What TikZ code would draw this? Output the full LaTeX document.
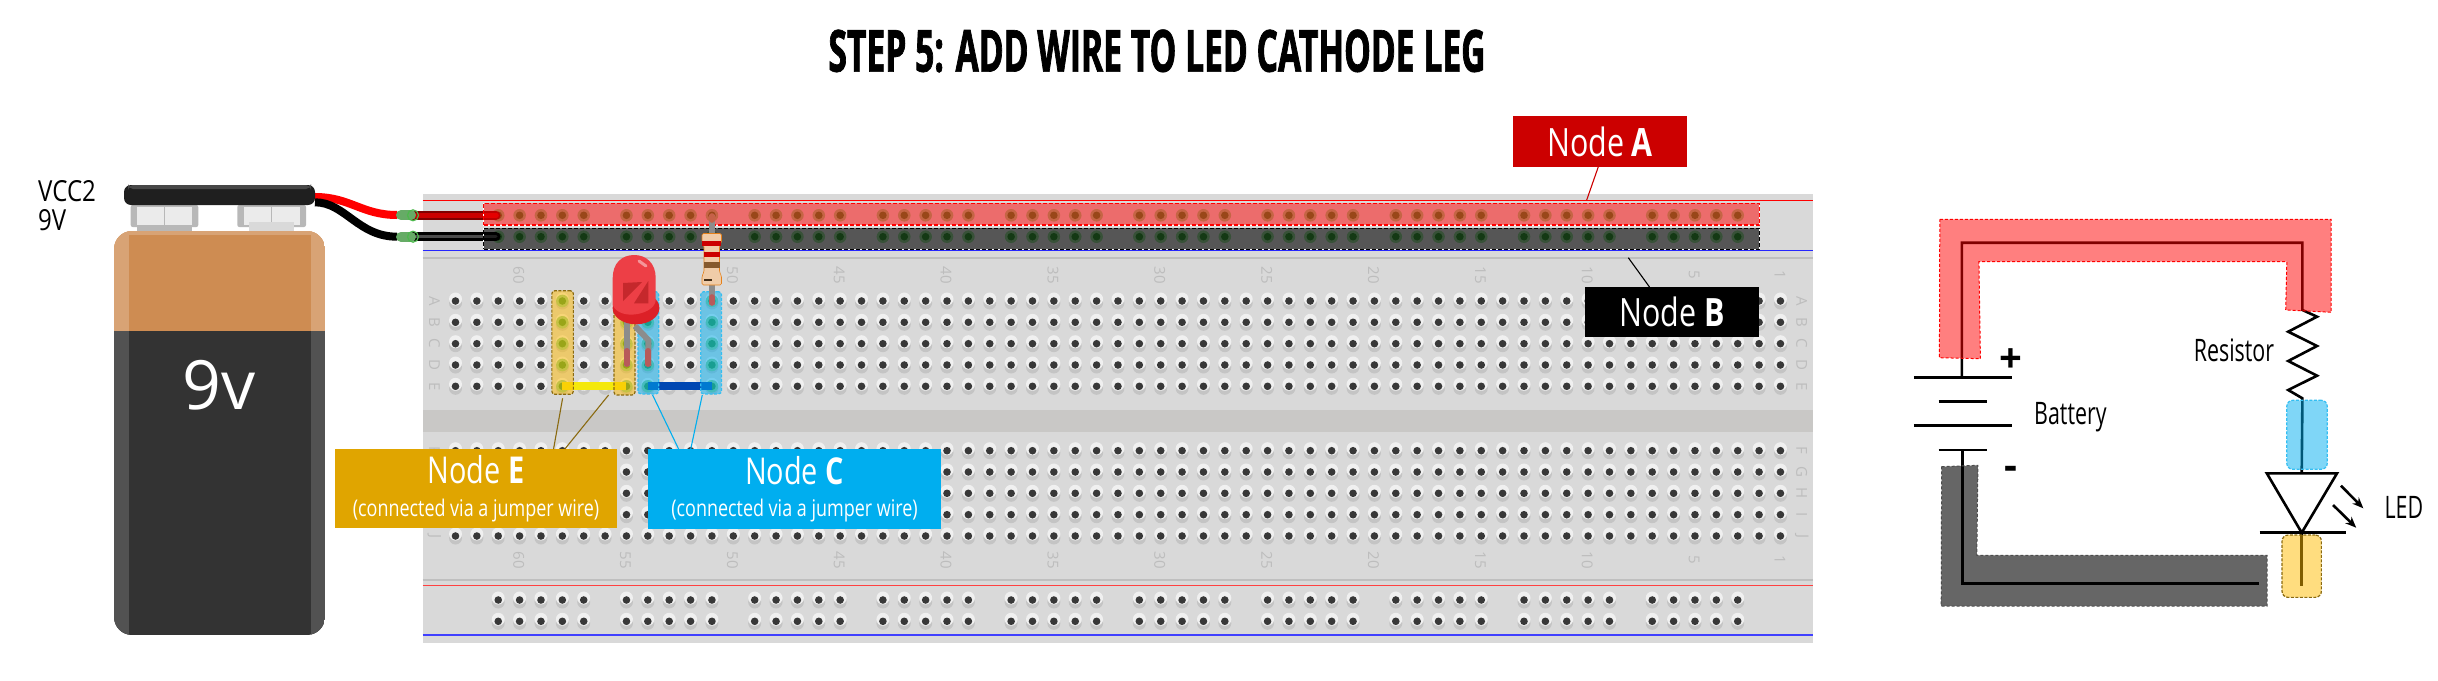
\documentclass[tikz,border=0pt]{standalone}
\usepackage{fontspec}
\usepackage{tikz}
\usetikzlibrary{arrows.meta}
\setmainfont{Open Sans}
\newfontfamily\narrowfont[FakeStretch=0.78]{Open Sans}
\newfontfamily\schemfont[FakeStretch=0.69]{Open Sans}
\newfontfamily\vccfont[FakeStretch=0.83]{Open Sans}
\newfontfamily\titlefont[FakeStretch=0.58,FakeBold=1.2]{Open Sans}
\definecolor{boardgray}{HTML}{D9D9D9}
\definecolor{channelgray}{HTML}{C9C8C6}
\definecolor{numgray}{HTML}{BDBDBD}
\definecolor{nodeyellow}{HTML}{FFBB00}
\definecolor{nodeblue}{HTML}{00AEEF}
\definecolor{edgeyellow}{HTML}{8A6A10}
\definecolor{copper}{HTML}{CE8C52}
\definecolor{legred}{HTML}{B85A5A}
\definecolor{ledbody}{HTML}{ED3F46}
\definecolor{ledrim}{HTML}{DC2027}
\definecolor{ledinner}{HTML}{C5282C}
\newcommand{\holeplain}[2]{
	\fill[black!23] ({#1},{#2+2}) circle [radius=6.5];
	\fill[black!6] ({#1},{#2-2}) circle [radius=6.5];
	\fill[black!78] ({#1},{#2}) circle [radius=3.8];
}
\newcommand{\holelive}[2]{
	\fill[green!55!black!45!white] ({#1},{#2}) circle [radius=6.3];
	\fill[green!45!black!80] ({#1},{#2}) circle [radius=3.8];
}
\tikzset{
	railA/.style={rectangle,inner sep=0,outer sep=0,fill=red,fill opacity=.5,draw=red,line width=1.2,dash pattern=on 4pt off 2pt,preaction={draw=white,solid,line width=1.2}},
	railB/.style={rectangle,inner sep=0,outer sep=0,fill=black,fill opacity=.6,draw=black,line width=1.2,dash pattern=on 4pt off 2pt,preaction={draw=white,solid,line width=1.2}},
	stripE/.style={rectangle,rounded corners=3,inner sep=0,outer sep=0,fill=nodeyellow,fill opacity=.5,draw=edgeyellow,line width=1.2,dash pattern=on 3pt off 1.5pt},
	stripC/.style={rectangle,rounded corners=3,inner sep=0,outer sep=0,fill=nodeblue,fill opacity=.5,draw=nodeblue!80!white,line width=1.2,dash pattern=on 3pt off 1.5pt},
	labelbox/.style={rectangle,inner sep=0,outer sep=0,text=white,align=center,font=\narrowfont},
	plaintext/.style={inner sep=0,outer sep=0,text=black,font=\schemfont\fontsize{31}{34}\selectfont},
	boardnum/.style={inner sep=0,text=numgray,rotate=-90,font=\fontsize{15}{15}\selectfont},
	schem/.style={line width=2.6,black,line join=miter},
	beam/.style={schem,-{Stealth[length=11pt,width=9pt]}},
}
\begin{document}
\begin{tikzpicture}[x=1pt,y=-1pt]
	\useasboundingbox (0,0) rectangle (2438,680);
	\node[inner sep=0,font=\titlefont\bfseries\fontsize{58}{60}\selectfont] (title) at (1157,51) {STEP 5: ADD WIRE TO LED CATHODE LEG};
	% breadboard
	\fill[boardgray] (422.6,194) rectangle (1813,642.7);
	\fill[channelgray] (422.6,410) rectangle (1813,431.7);
	\draw[red,line width=1.4] (422.6,200.3) -- (1813,200.3);
	\draw[blue!85!white,line width=1.4] (422.6,250.3) -- (1813,250.3);
	\draw[black!25,line width=1.6] (422.6,257.7) -- (1813,257.7);
	\draw[black!25,line width=1.6] (422.6,580) -- (1813,580);
	\draw[red!75!white,line width=1.6] (422.6,585.3) -- (1813,585.3);
	\draw[blue!75!white,line width=1.6] (422.6,635) -- (1813,635);
	\foreach \i in {0,...,62}
		\foreach \r in {301,322.3,343.7,365,386.3,450.7,472,493.3,514.7,536}
			{\holeplain{455.5+21.37*\i}{\r}}
	\foreach \g in {2,8,...,56}
		\foreach \k in {0,...,4} {
			\holelive{455.5+21.37*(\g+\k)}{215.3}
			\holelive{455.5+21.37*(\g+\k)}{236.7}
			\holeplain{455.5+21.37*(\g+\k)}{600}
			\holeplain{455.5+21.37*(\g+\k)}{621.3}
		}
	\foreach \i in {5,8,9,12}
		\foreach \r in {301,322.3,343.7,365,386.3}
			{\holelive{455.5+21.37*\i}{\r}}
	\foreach \n in {5,10,...,60} {
		\node[boardnum] (top\n) at (1781-21.37*\n+21.37-1.5,275) {\n};
		\node[boardnum] (bot\n) at (1781-21.37*\n+21.37-1.5,560) {\n};
	}
	\node[boardnum] (top1) at (1780,275) {1};
	\node[boardnum] (bot1) at (1780,560) {1};
	\foreach \t/\r in {A/301,B/322.3,C/343.7,D/365,E/386.3,F/450.7,G/472,H/493.3,I/514.7,J/536} {
		\node[boardnum] (left\t) at (434.4,\r) {\t};
		\node[boardnum] (right\t) at (1801.7,\r) {\t};
	}
	% wires into the rails
	\draw[line width=8,red] (315,197) .. controls (350,197) and (362,215) .. (397,215);
	\draw[line width=8,black] (315,202.3) .. controls (345,202.3) and (358,236.7) .. (397,236.7);
	\draw[line width=9,red!50!black,line cap=round] (413,215.3) -- (496,215.3);
	\draw[line width=5.5,red!80!black,line cap=round] (413,215.3) -- (496,215.3);
	\draw[line width=9,black,line cap=round] (413,236.7) -- (496,236.7);
	\draw[line width=3,black!70,line cap=round] (413,236.7) -- (496,236.7);
	\foreach \r in {215.3,236.7} {
		\draw[line width=10,green!45!black!60!white,line cap=round] (401,\r) -- (411,\r);
		\draw[green!60!black!70!white,line width=1.2] (413,\r) circle [radius=5.5];
	}
	\draw[line width=8,yellow!95!black] (562.3,386.3) -- (626.2,386.3);
	\draw[line width=8,blue!60!cyan!70!black] (647.6,386.3) -- (711.9,386.3);
	% highlighted nets
	\node[railA,minimum width=1275.6,minimum height=21.7] (railA) at (1121.5,214.2) {};
	\node[railB,minimum width=1275.6,minimum height=21] (railB) at (1121.5,238.8) {};
	\node[stripE,minimum width=21.5,minimum height=103.6] (stripEa) at (562.6,342.5) {};
	\node[stripE,minimum width=21.1,minimum height=103.6] (stripEb) at (624.5,343.2) {};
	\node[stripC,minimum width=20.7,minimum height=102.3] (stripCa) at (648.3,342.8) {};
	\node[stripC,minimum width=20.7,minimum height=102.3] (stripCb) at (711.1,342.8) {};
	% resistor
	\draw[line width=5.6,black!45] (711.9,215) -- (711.9,305);
	\draw[line width=5.6,legred,line cap=round] (711.9,297) -- (711.9,303);
	\draw[line width=5.6,legred!80!orange,line cap=round] (711.9,216) -- (711.9,220);
	\draw[fill=orange!40!brown!40!white,draw=orange!60!brown,rounded corners=1.5,line width=.6] (702,233.5) -- (721.5,233.5) -- (721.5,242) -- (719.5,246) -- (719.5,272) -- (721.5,276) -- (721.5,285) -- (702,285) -- (702,276) -- (704,272) -- (704,246) -- (702,242) -- cycle;
	\fill[red!80!black] (702.3,241) rectangle (721.2,245.7);
	\fill[red!80!black] (703.8,251.7) rectangle (719.7,256.7);
	\fill[brown!70!black] (703.8,262.3) rectangle (719.7,267.7);
	\fill[black!65!brown] (703.8,279.3) rectangle (712,281.3);
	% led
	\draw[line width=6,black!45] (626.7,320) -- (626.7,366);
	\draw[line width=6,black!45,line join=round] (635,326) -- (648.3,340) -- (648.3,366);
	\draw[line width=6,legred,line cap=round] (626.7,351) -- (626.7,364);
	\draw[line width=6,legred,line cap=round] (648.3,351) -- (648.3,364);
	\fill[ledrim] (636,308) ellipse [x radius=23.4,y radius=16.3];
	\fill[ledbody] (612.7,305) -- (612.7,278) .. controls (612.7,263) and (622,255) .. (634.2,255) .. controls (646,255) and (655.7,263) .. (655.7,278) -- (655.7,300) .. controls (655.7,314) and (620,322) .. (612.7,305) -- cycle;
	\fill[ledinner] (623,283) -- (642,282) -- (623,301) -- cycle;
	\fill[ledinner] (648.3,281) -- (648.3,303.3) -- (634,303.3) -- cycle;
	\draw[white,opacity=.45,line width=3,line cap=round] (639,261) -- (646,266);
	% battery
	\begin{scope}
		\clip[rounded corners=18] (114,231) rectangle (325,635);
		\fill[black!80] (114,331) rectangle (325,635);
		\fill[black!68] (114,331) rectangle (128.6,635);
		\fill[black!68] (311,331) rectangle (325,635);
		\fill[copper] (114,231) rectangle (325,331);
		\fill[copper!80!white] (114,231) rectangle (128.6,331);
		\fill[copper!80!white] (311,231) rectangle (325,331);
		\fill[copper!80!white] (114,231) rectangle (325,235);
	\end{scope}
	\foreach \x/\w in {130.7/67.6,237.3/68.7} {
		\fill[black!28,rounded corners=2] (\x,205) rectangle (\x+\w,227);
		\fill[black!8] (\x+6.5,207) rectangle (\x+\w/2-.7,225);
		\fill[black!8] (\x+\w/2+.7,207) rectangle (\x+\w-6.5,225);
	}
	\fill[black!28] (137,225) rectangle (192,231);
	\fill[black!15] (249,221.7) rectangle (294,231);
	\fill[black!88,rounded corners=7] (124,205) -- (124,185) -- (315,185) -- (315,205) -- cycle;
	\fill[black!72,rounded corners=5] (128,185) rectangle (311,189);
	\node[inner sep=0,text=white,font=\fontsize{68}{70}\selectfont] (bat9v) at (219,385) {9v};
	\node[inner sep=0,anchor=north west,align=left,font=\vccfont\fontsize{29}{34}\selectfont] (vcc) at (38,180) {VCC2\\[-5pt]9V};
	% labels and leaders
	\node[labelbox,fill=red!80!black,minimum width=174,minimum height=51,font=\narrowfont\fontsize{39}{40}\selectfont] (labelA) at (1600,141.5) {Node \textbf{A}};
	\node[labelbox,fill=black,minimum width=174,minimum height=50,font=\narrowfont\fontsize{39}{40}\selectfont] (labelB) at (1672,312) {Node \textbf{B}};
	\node[labelbox,fill=nodeyellow!88!black,minimum width=282,minimum height=79] (labelE) at (476,488.7) {\fontsize{37}{40}\selectfont Node \textbf{E}\\[14pt]\fontsize{23}{24}\selectfont (connected via a jumper wire)};
	\node[labelbox,fill=nodeblue,minimum width=293,minimum height=79.7] (labelC) at (794.5,489.2) {\fontsize{37}{40}\selectfont Node \textbf{C}\\[14pt]\fontsize{23}{24}\selectfont (connected via a jumper wire)};
	\coordinate (tipA) at (1586.7,200);
	\coordinate (tipB) at (1628.3,257.7);
	\coordinate (tipEa) at (562.6,398.3);
	\coordinate (tipEb) at (608.6,395);
	\coordinate (tipCa) at (652.6,395);
	\coordinate (tipCb) at (702.3,395);
	\path[red!80!black,line width=1.1] (labelA.266) edge (tipA);
	\path[black,line width=1.1] (labelB.132) edge (tipB);
	\path[edgeyellow,line width=1.1] (labelE.27) edge (tipEa)
				(labelE.24) edge (tipEb);
	\path[nodeblue,line width=1.1] (labelC.161) edge (tipCa)
				(labelC.159.5) edge (tipCb);
	% schematic
	\coordinate (batTop) at (1961.9,377.3);
	\coordinate (batBot) at (1962.6,450);
	\coordinate (ledIn) at (2301.7,473.3);
	\coordinate (ledOut) at (2301.7,532.7);
	\draw[schem] (batTop) -- (1961.9,242.7) -- (2302.4,242.7) -- (2302.4,310) -- (2317,316.7) -- (2288.2,331.7) -- (2317,346) -- (2288.2,361) -- (2317,375.7) -- (2288.2,390) -- (2302.4,398.3) -- (ledIn);
	\draw[schem] (batBot) -- (1962.6,583.3) -- (2259,583.3);
	\draw[schem] (1913.8,377.3) -- (2011.7,377.3);
	\draw[schem] (1938.7,401.3) -- (1986.8,401.3);
	\draw[schem] (1913.8,425.3) -- (2011.7,425.3);
	\draw[schem] (1938.7,450) -- (1986.8,450);
	\draw[schem,fill=white] (ledIn) -- (2337,473.3) -- (ledOut) -- (2266.8,473.3) -- cycle;
	\draw[schem] (2259.7,532.7) -- (2346,532.7);
	\draw[schem] (ledOut) -- (2301.7,586);
	\draw[beam] (2340.9,485.7) -- (2363.3,508.3);
	\draw[beam] (2333,505) -- (2356.2,527.7);
	\fill[red,fill opacity=.5] (1939.8,219.3) -- (2331.2,219.3) -- (2331.2,312.3) -- (2285.7,310) -- (2286.8,261.7) -- (1978.9,261.7) -- (1980.4,358.7) -- (1939.4,357.7) -- cycle;
	\draw[red,line width=1,densely dashed] (1939.8,219.3) -- (2331.2,219.3) -- (2331.2,312.3) -- (2285.7,310) -- (2286.8,261.7) -- (1978.9,261.7) -- (1980.4,358.7) -- (1939.4,357.7) -- cycle;
	\fill[black,fill opacity=.6] (1941.6,466.7) -- (1977.9,465.3) -- (1976.8,555.3) -- (2267.2,555.3) -- (2267.2,606) -- (1941.2,606) -- cycle;
	\draw[black!70,line width=1,densely dashed] (1941.6,466.7) -- (1977.9,465.3) -- (1976.8,555.3) -- (2267.2,555.3) -- (2267.2,606) -- (1941.2,606) -- cycle;
	\node[stripC,minimum width=40.5,minimum height=69,rounded corners=6] (ledBlue) at (2307,434.8) {};
	\node[stripE,minimum width=39.3,minimum height=62.3,rounded corners=6] (ledYellow) at (2301.7,566.2) {};
	\node[inner sep=0,font=\bfseries\fontsize{40}{40}\selectfont] (plus) at (2010.6,361) {+};
	\node[inner sep=0,font=\bfseries\fontsize{40}{40}\selectfont] (minus) at (2010.6,473) {-};
	\node[plaintext] (resLabel) at (2234,350.7) {Resistor};
	\node[plaintext] (batLabel) at (2070.4,416.7) {Battery};
	\node[plaintext] (ledLabel) at (2403.8,507.3) {LED};
\end{tikzpicture}
\end{document}
